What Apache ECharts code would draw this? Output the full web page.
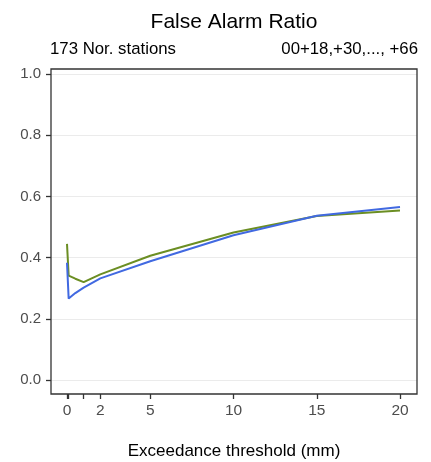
<!DOCTYPE html>
<html><head><meta charset="utf-8">
<script src="https://cdn.jsdelivr.net/npm/echarts@6/dist/echarts.min.js"></script>
<style>html,body{margin:0;padding:0;background:#fff}#c{width:431px;height:462px}</style>
</head><body><div id="c"></div>
<script>
const thresholds = [0, 0.1, 0.5, 1, 2, 5, 10, 15, 20];
const greenValues = [0.445, 0.341, 0.331, 0.320, 0.345, 0.406, 0.482, 0.536, 0.554];
const blueValues  = [0.383, 0.266, 0.284, 0.302, 0.332, 0.388, 0.473, 0.537, 0.565];
const xTickValues = [0, 0.1, 1, 2, 5, 10, 15, 20];
const xLabelValues = [0, 2, 5, 10, 15, 20];
const yTickValues = [0, 0.2, 0.4, 0.6, 0.8, 1.0];

const chart = echarts.init(document.getElementById('c'), null, {renderer:'canvas'});
const FONT = 'Liberation Sans, Arial, sans-serif';
const pair = (xs, ys) => xs.map((x, i) => [x, ys[i]]);
chart.setOption({
  animation: false,
  backgroundColor: '#fff',
  title: [
    {text: 'False Alarm Ratio', left: 234, top: 12, textAlign: 'center', padding: 0,
     textStyle: {fontFamily: FONT, fontSize: 21, fontWeight: 'normal', color: '#000'}},
    {text: '173 Nor. stations', left: 50, top: 41, padding: 0,
     textStyle: {fontFamily: FONT, fontSize: 16.8, fontWeight: 'normal', color: '#000'}},
    {text: '00+18,+30,..., +66', right: 13, top: 41, padding: 0,
     textStyle: {fontFamily: FONT, fontSize: 16.8, fontWeight: 'normal', color: '#000'}},
    {text: 'Exceedance threshold (mm)', left: 234, top: 443, textAlign: 'center', padding: 0,
     textStyle: {fontFamily: FONT, fontSize: 17, fontWeight: 'normal', color: '#000'}}
  ],
  grid: [
    {left: 51, right: 14, top: 69, bottom: 68, show: true, borderColor: '#333', borderWidth: 1.3, backgroundColor: 'transparent', z: 5},
    {left: 51, right: 14, top: 74, bottom: 82},
    {left: 67, right: 31, top: 74, bottom: 82},
    {left: 67, right: 31, top: 69, bottom: 68}
  ],
  xAxis: [
    {gridIndex: 0, type: 'value', show: false, min: 0, max: 1},
    {gridIndex: 1, type: 'value', show: false, min: 0, max: 1},
    {gridIndex: 2, type: 'value', show: false, min: 0, max: 20},
    {gridIndex: 3, type: 'value', min: 0, max: 20,
     axisLine: {show: false},
     splitLine: {show: false},
     axisTick: {show: true, length: 5, customValues: xTickValues, lineStyle: {color: '#333', width: 1.3}},
     axisLabel: {customValues: xLabelValues, color: '#4d4d4d', fontFamily: FONT, fontSize: 15.5, margin: 9}
    }
  ],
  yAxis: [
    {gridIndex: 0, type: 'value', show: false, min: 0, max: 1},
    {gridIndex: 1, type: 'value', min: 0, max: 1, interval: 0.2,
     axisLine: {show: false},
     axisTick: {show: true, length: 5, inside: false, lineStyle: {color: '#333', width: 1.3}},
     splitLine: {show: true, lineStyle: {color: '#ebebeb', width: 1.2}},
     axisLabel: {color: '#4d4d4d', fontFamily: FONT, fontSize: 15, margin: 10,
       formatter: v => v.toFixed(1)}
    },
    {gridIndex: 2, type: 'value', show: false, min: 0, max: 1},
    {gridIndex: 3, type: 'value', show: false, min: 0, max: 1}
  ],
  series: [
    {type: 'line', xAxisIndex: 2, yAxisIndex: 2, data: pair(thresholds, greenValues),
     showSymbol: false, lineStyle: {color: '#6b8e23', width: 2}, z: 3},
    {type: 'line', xAxisIndex: 2, yAxisIndex: 2, data: pair(thresholds, blueValues),
     showSymbol: false, lineStyle: {color: '#4169e1', width: 2}, z: 4}
  ]
});
</script></body></html>
